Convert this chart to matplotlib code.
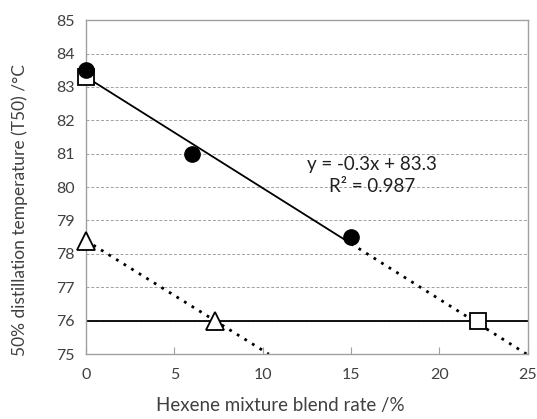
import matplotlib
matplotlib.use("Agg")
import matplotlib.pyplot as plt
import numpy as np

plt.rcParams['font.family'] = ['Lato', 'DejaVu Sans']

# measured data
circle_x = [0, 6, 15]
circle_y = [83.5, 81.0, 78.5]
square_x = [0, 22.2]
square_y = [83.3, 76.0]
tri_x = [0, 7.3]
tri_y = [78.4, 76.0]
fit_slope = -0.333
fit_icpt = 83.3
target_t50 = 76.0
xticks = [0, 5, 10, 15, 20, 25]
yticks = list(range(75, 86))

fig = plt.figure(figsize=(5.37, 4.19), dpi=100)
ax = fig.add_axes([0.160, 0.155, 0.823, 0.797])
ax.set_xlim(0, 25)
ax.set_ylim(75, 85)

for yv in yticks:
    ax.axhline(yv, color='#a0a0a0', lw=0.7, ls=(0, (3, 2)), zorder=0)

# regression line: solid over measured range, dotted extension
xs = np.array([0, 15])
ax.plot(xs, fit_icpt + fit_slope * xs, color='black', lw=1.3, zorder=2)
xd = np.array([15, 25])
ax.plot(xd, fit_icpt + fit_slope * xd, color='black', lw=2, ls=(0, (1, 2.2)), zorder=2)

# line through triangles extended to the axis
s_tri = (tri_y[1] - tri_y[0]) / (tri_x[1] - tri_x[0])
x_end = tri_x[0] + (75 - tri_y[0]) / s_tri
xt = np.array([0, x_end])
ax.plot(xt, tri_y[0] + s_tri * xt, color='black', lw=2, ls=(0, (1, 2.2)), zorder=2)

ax.axhline(target_t50, color='black', lw=1.3, zorder=2)

ax.plot(circle_x, circle_y, 'o', ms=11, color='black', zorder=4, clip_on=False)
ax.plot(square_x, square_y, 's', ms=11.5, mfc='white', mec='black', mew=1.3, zorder=3, clip_on=False)
ax.plot(tri_x, tri_y, '^', ms=12.5, mfc='white', mec='black', mew=1.3, zorder=3, clip_on=False)

ax.text(16.2, 80.35, 'y = -0.3x + 83.3\nR² = 0.987', ha='center', va='center',
        fontsize=13.5, color='#202020', linespacing=1.4)

ax.set_xticks(xticks)
ax.set_yticks(yticks)
ax.tick_params(axis='x', direction='in', length=5, color='#a0a0a0', labelsize=11.5,
               labelcolor='#404040', pad=10)
ax.tick_params(axis='y', length=0, labelsize=11.5, labelcolor='#404040', pad=8)
for sp in ax.spines.values():
    sp.set_color('#a0a0a0')
    sp.set_linewidth(1)

ax.set_xlabel('Hexene mixture blend rate /%', fontsize=13.5, color='#404040', va='center')
ax.set_ylabel('50% distillation temperature (T50) /°C', fontsize=12.5, color='#404040', va='center')
ax.xaxis.set_label_coords(0.439, -0.153)
ax.yaxis.set_label_coords(-0.149, 0.431)

fig.savefig('out.png', dpi=100)
